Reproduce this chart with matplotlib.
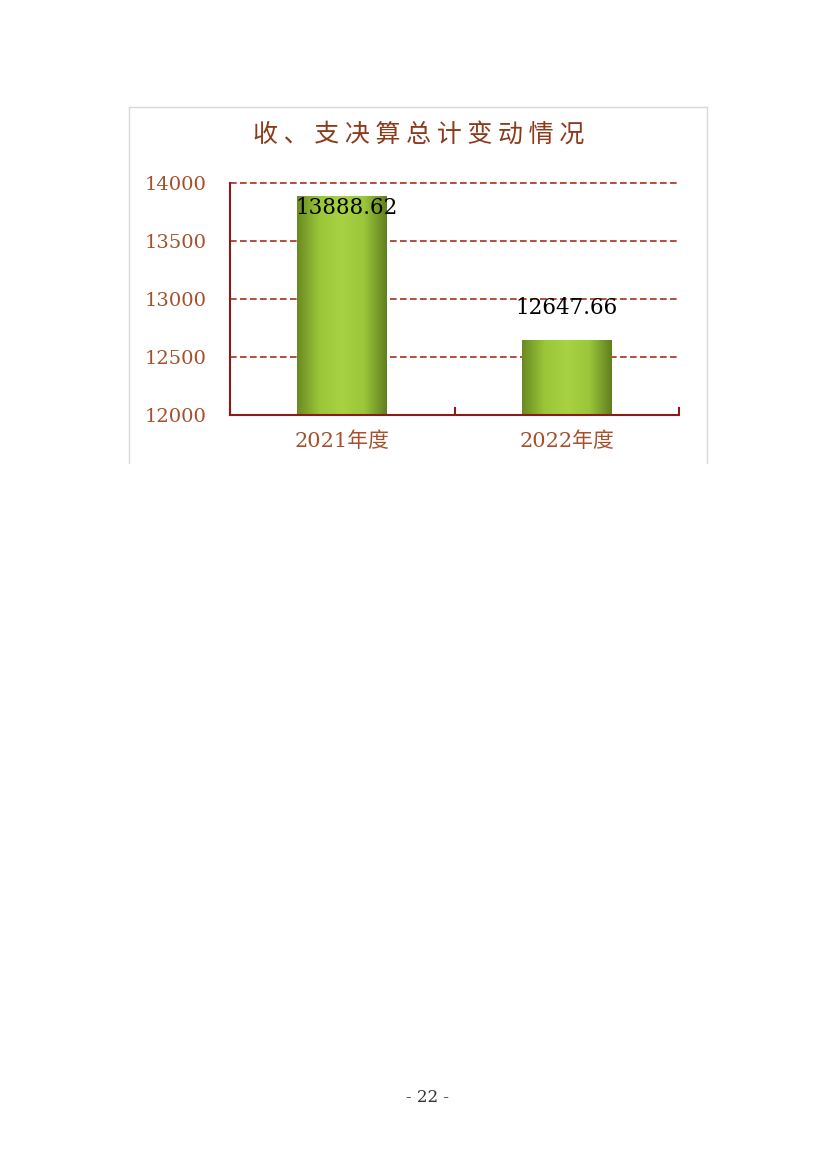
import numpy as np
import matplotlib
matplotlib.use("Agg")
import matplotlib.pyplot as plt
from matplotlib.colors import LinearSegmentedColormap
from matplotlib.lines import Line2D

plt.rcParams['font.family'] = ['DejaVu Serif', 'Noto Sans CJK SC', 'DejaVu Sans']

# data
title = "收、支决算总计变动情况"
categories = ["2021年度", "2022年度"]
values = [13888.62, 12647.66]
labels = ["13888.62", "12647.66"]
yticks = [12000, 12500, 13000, 13500, 14000]

red = "#8B1A1A"
brown = "#A4502A"

fig = plt.figure(figsize=(8.27, 11.69), dpi=100)
W, H = 827, 1169

# light grey chart frame (bottom cut off as in the page)
def px(x, y):
    return x / W, 1 - y / H
for (x0, y0), (x1, y1) in [((129, 463), (129, 107)), ((129, 107), (707, 107)), ((707, 107), (707, 463))]:
    a, b = px(x0, y0)
    c, d = px(x1, y1)
    fig.add_artist(Line2D([a, c], [b, d], color="#d9d9d9", lw=1.0))

ax = fig.add_axes([230 / W, 1 - 415 / H, 449 / W, 232 / H])

x = np.arange(len(categories))
bars = ax.bar(x, values, width=0.4, bottom=0, color="none", zorder=3)
ax.set_xlim(-0.5, 1.5)
ax.set_ylim(12000, 14000)

# horizontal gradient fill for each bar
cmap = LinearSegmentedColormap.from_list("g", ["#6a8a22", "#9ac639", "#a8d243", "#9ac639", "#607e1f"])
grad = np.linspace(0, 1, 256).reshape(1, -1)
for b in bars:
    im = ax.imshow(grad, cmap=cmap, aspect="auto", zorder=2,
                   extent=[b.get_x(), b.get_x() + b.get_width(), 12000, b.get_height()])
    im.set_clip_path(b)

ax.set_yticks(yticks)
ax.set_yticklabels([str(v) for v in yticks], color=brown, fontsize=14)
ax.set_xticks(x)
ax.set_xticklabels(categories, color=brown, fontsize=15)
ax.set_xticks([-0.5, 0.5, 1.5], minor=True)
ax.tick_params(axis="x", which="major", length=0, pad=12)
ax.tick_params(axis="x", which="minor", length=6, direction="in", color=red, width=1.5)
ax.tick_params(axis="y", length=0, pad=17)

# dashed gridlines (not clipped so the top one shows fully)
for v in yticks[1:]:
    ax.axhline(v, color="#A8301E", linestyle=(0, (4, 2)), linewidth=1.2, zorder=1, clip_on=False)
for s in ["top", "right"]:
    ax.spines[s].set_visible(False)
for s in ["left", "bottom"]:
    ax.spines[s].set_color(red)
    ax.spines[s].set_linewidth(1.5)

# data labels: first inside the bar top, second above it
offsets = [(4, -12), (0, 32)]
for b, lab, off in zip(bars, labels, offsets):
    ax.annotate(lab, (b.get_x() + b.get_width() / 2, b.get_height()),
                xytext=off, textcoords="offset pixels", ha="center", va="center",
                fontsize=15.5, color="black", zorder=5)

fig.text(419 / W, 1 - 135 / H, " ".join(title), ha="center", va="center",
         fontsize=18, fontweight="medium", color="#8B3A1A",
         family=["Noto Sans CJK SC", "DejaVu Sans"])

fig.text(427 / W, 1 - 1098 / H, "- 22 -", ha="center", va="center", fontsize=12,
         color="#333333")

fig.savefig("out.png", dpi=100)
